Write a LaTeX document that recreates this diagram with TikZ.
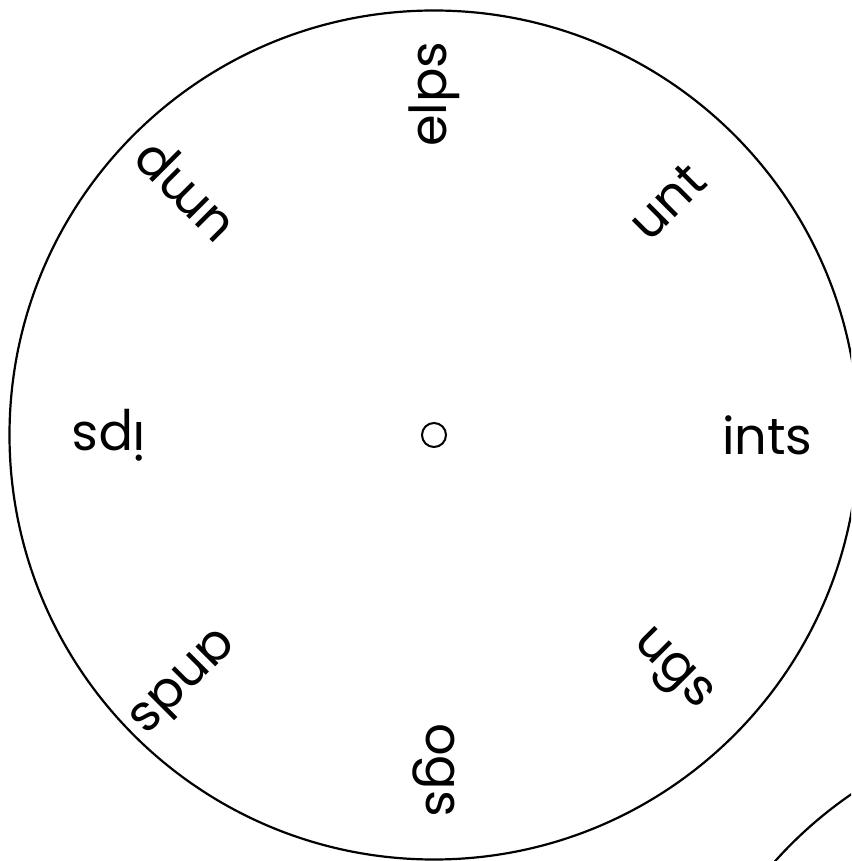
\documentclass[tikz,border=0pt]{standalone}
\usepackage{fontspec}
\setmainfont{Poppins}
\begin{document}
\begin{tikzpicture}[x=1pt,y=1pt,
  wordlbl/.style={anchor=west,inner sep=0pt,outer sep=0pt,font=\fontsize{51}{60}\selectfont},
  rim/.style={line width=2.2pt}]
\useasboundingbox (-434,-426) rectangle (417,435);
\clip (-434,-426) rectangle (417,435);
\draw[rim] (0,0) circle (424.5);
\draw[rim] (657,-709) circle (424);
\node[draw,circle,line width=2pt,minimum size=24pt,inner sep=0pt] (hub) at (0,0) {};
\node[wordlbl,rotate=0]    (w0) at (0:288)    {ints};
\node[wordlbl,rotate=45]   (w1) at (45:288)   {unt};
\node[wordlbl,rotate=90]   (w2) at (90:288)   {elps};
\node[wordlbl,rotate=135]  (w3) at (135:288)  {ump};
\node[wordlbl,rotate=180]  (w4) at (180:288)  {ips};
\node[wordlbl,rotate=-135] (w5) at (-135:288) {ands};
\node[wordlbl,rotate=-90]  (w6) at (-90:288)  {ogs};
\node[wordlbl,rotate=-45]  (w7) at (-45:288)  {ugs};
\end{tikzpicture}
\end{document}
